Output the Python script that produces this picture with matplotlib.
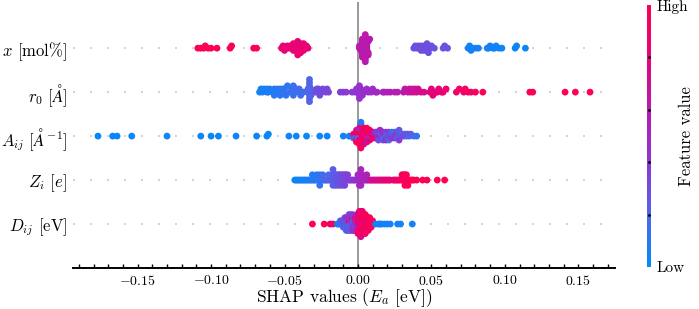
import numpy as np
import matplotlib
matplotlib.use('Agg')
import matplotlib.pyplot as plt
from matplotlib.colors import LinearSegmentedColormap, Normalize
from matplotlib.cm import ScalarMappable
from matplotlib.ticker import MultipleLocator

plt.rcParams['font.family'] = 'serif'
plt.rcParams['font.serif'] = ['cmr10']
plt.rcParams['mathtext.fontset'] = 'cm'
plt.rcParams['axes.formatter.use_mathtext'] = True

# feature labels, top to bottom
labels = [r'$x$ [mol%]', r'$r_0$ [$\AA$]', r'$A_{ij}$ [$\AA^{-1}$]',
          r'$Z_i$ [$e$]', r'$D_{ij}$ [eV]']

# SHAP values and (normalised) feature values
x_shap = [
    -0.109, -0.107, -0.105, -0.104, -0.102, -0.100, -0.096, -0.087, -0.086, -0.071,
    -0.069, -0.052, -0.051, -0.050, -0.049, -0.048, -0.047, -0.046, -0.045, -0.045,
    -0.044, -0.044, -0.043, -0.043, -0.042, -0.042, -0.041, -0.041, -0.041, -0.040,
    -0.040, -0.040, -0.039, -0.039, -0.038, -0.038, -0.037, -0.037, -0.036, -0.035,
    -0.034, 0.001, 0.001, 0.002, 0.002, 0.002, 0.003, 0.003, 0.003, 0.003,
    0.003, 0.003, 0.004, 0.004, 0.004, 0.004, 0.004, 0.004, 0.004, 0.005,
    0.005, 0.005, 0.005, 0.005, 0.005, 0.006, 0.006, 0.006, 0.006, 0.007,
    0.007, 0.007, 0.008, 0.038, 0.039, 0.040, 0.041, 0.042, 0.043, 0.043,
    0.044, 0.045, 0.045, 0.046, 0.046, 0.047, 0.047, 0.048, 0.049, 0.050,
    0.052, 0.058, 0.059, 0.061, 0.075, 0.076, 0.077, 0.078, 0.080, 0.082,
    0.088, 0.089, 0.090, 0.092, 0.093, 0.094, 0.096, 0.098, 0.107, 0.108,
    0.114,
]
x_fval = [
    1.00, 0.98, 1.00, 0.97, 1.00, 0.99, 0.98, 1.00, 0.97, 0.99,
    1.00, 0.84, 0.82, 0.83, 0.82, 0.84, 0.83, 0.82, 0.84, 0.83,
    0.82, 0.84, 0.83, 0.82, 0.84, 0.83, 0.82, 0.84, 0.83, 0.82,
    0.84, 0.83, 0.82, 0.84, 0.83, 0.82, 0.84, 0.83, 0.82, 0.84,
    0.83, 0.60, 0.62, 0.61, 0.59, 0.60, 0.62, 0.61, 0.59, 0.60,
    0.62, 0.61, 0.59, 0.60, 0.62, 0.61, 0.59, 0.60, 0.62, 0.61,
    0.59, 0.60, 0.62, 0.61, 0.59, 0.60, 0.62, 0.61, 0.59, 0.60,
    0.62, 0.61, 0.59, 0.30, 0.29, 0.31, 0.30, 0.28, 0.30, 0.31,
    0.29, 0.30, 0.28, 0.31, 0.30, 0.29, 0.30, 0.28, 0.31, 0.30,
    0.29, 0.27, 0.28, 0.27, 0.05, 0.04, 0.06, 0.05, 0.04, 0.06,
    0.05, 0.04, 0.06, 0.05, 0.03, 0.04, 0.05, 0.03, 0.02, 0.03,
    0.02,
]

r0_shap = [
    -0.067, -0.066, -0.065, -0.064, -0.062, -0.062, -0.061, -0.060, -0.058, -0.057,
    -0.057, -0.056, -0.055, -0.054, -0.053, -0.053, -0.052, -0.051, -0.050, -0.050,
    -0.049, -0.048, -0.046, -0.045, -0.045, -0.044, -0.044, -0.043, -0.042, -0.040,
    -0.040, -0.039, -0.037, -0.034, -0.034, -0.033, -0.033, -0.033, -0.033, -0.033,
    -0.033, -0.032, -0.032, -0.032, -0.029, -0.028, -0.027, -0.027, -0.026, -0.025,
    -0.024, -0.022, -0.021, -0.020, -0.012, -0.010, -0.008, -0.004, -0.002, -0.001,
    0.000, 0.000, 0.001, 0.001, 0.001, 0.002, 0.002, 0.003, 0.004, 0.006,
    0.007, 0.009, 0.010, 0.012, 0.013, 0.017, 0.018, 0.020, 0.022, 0.025,
    0.027, 0.031, 0.032, 0.034, 0.035, 0.036, 0.037, 0.038, 0.039, 0.040,
    0.041, 0.043, 0.045, 0.049, 0.050, 0.051, 0.053, 0.054, 0.055, 0.057,
    0.058, 0.060, 0.067, 0.069, 0.072, 0.073, 0.075, 0.077, 0.080, 0.085,
    0.117, 0.119, 0.141, 0.148, 0.158,
]
r0_fval = [
    0.04, 0.05, 0.06, 0.05, 0.07, 0.06, 0.08, 0.07, 0.09, 0.08,
    0.10, 0.09, 0.11, 0.10, 0.09, 0.12, 0.11, 0.10, 0.12, 0.11,
    0.13, 0.12, 0.14, 0.13, 0.15, 0.14, 0.13, 0.15, 0.16, 0.15,
    0.16, 0.17, 0.16, 0.20, 0.21, 0.19, 0.20, 0.22, 0.21, 0.20,
    0.19, 0.21, 0.20, 0.22, 0.28, 0.29, 0.30, 0.31, 0.30, 0.32,
    0.31, 0.33, 0.32, 0.34, 0.36, 0.37, 0.38, 0.40, 0.41, 0.40,
    0.42, 0.41, 0.43, 0.42, 0.44, 0.43, 0.45, 0.44, 0.46, 0.45,
    0.47, 0.46, 0.48, 0.47, 0.49, 0.52, 0.53, 0.55, 0.56, 0.57,
    0.58, 0.62, 0.63, 0.64, 0.65, 0.66, 0.67, 0.68, 0.69, 0.70,
    0.71, 0.72, 0.74, 0.78, 0.79, 0.80, 0.81, 0.82, 0.83, 0.84,
    0.84, 0.85, 0.88, 0.89, 0.90, 0.91, 0.92, 0.93, 0.94, 0.96,
    1.00, 0.99, 1.00, 1.00, 1.00,
]

a_shap = [
    -0.177, -0.167, -0.164, -0.154, -0.130, -0.107, -0.100, -0.095, -0.083, -0.069,
    -0.062, -0.061, -0.047, -0.042, -0.035, -0.026, -0.021, -0.010, -0.006, -0.004,
    -0.003, -0.003, -0.002, -0.002, -0.002, -0.001, -0.001, -0.001, -0.001, 0.000,
    0.000, 0.000, 0.000, 0.001, 0.001, 0.001, 0.001, 0.001, 0.002, 0.002,
    0.002, 0.002, 0.002, 0.003, 0.003, 0.003, 0.003, 0.004, 0.004, 0.004,
    0.004, 0.004, 0.005, 0.005, 0.005, 0.005, 0.006, 0.006, 0.006, 0.006,
    0.007, 0.007, 0.007, 0.008, 0.008, 0.008, 0.009, 0.009, 0.010, 0.010,
    0.011, 0.011, 0.012, 0.013, 0.014, 0.015, 0.016, 0.018, 0.020, 0.012,
    0.013, 0.014, 0.015, 0.016, 0.016, 0.017, 0.017, 0.018, 0.018, 0.019,
    0.019, 0.020, 0.020, 0.021, 0.021, 0.022, 0.022, 0.023, 0.023, 0.024,
    0.024, 0.025, 0.025, 0.026, 0.026, 0.027, 0.027, 0.028, 0.028, 0.029,
    0.030, 0.031, 0.032, 0.033, 0.034, 0.035, 0.036, 0.038, 0.040,
]
a_fval = [
    0.03, 0.02, 0.03, 0.02, 0.04, 0.03, 0.02, 0.03, 0.04, 0.03,
    0.02, 0.03, 0.04, 0.03, 0.02, 0.04, 0.03, 0.05, 0.08, 0.10,
    0.95, 0.25, 1.00, 0.85, 0.15, 0.90, 1.00, 0.70, 0.95, 0.88,
    1.00, 0.20, 0.92, 0.80, 1.00, 0.90, 0.45, 0.98, 0.85, 1.00,
    0.75, 0.95, 0.10, 0.90, 1.00, 0.82, 0.97, 0.88, 0.60, 1.00,
    0.92, 0.78, 0.95, 0.35, 1.00, 0.86, 0.90, 1.00, 0.70, 0.94,
    0.85, 1.00, 0.55, 0.92, 0.80, 0.98, 0.40, 0.88, 1.00, 0.75,
    0.90, 0.65, 0.82, 0.50, 0.78, 0.60, 0.85, 0.70, 0.55, 0.40,
    0.35, 0.30, 0.45, 0.20, 0.38, 0.50, 0.25, 0.42, 0.15, 0.36,
    0.48, 0.22, 0.33, 0.40, 0.18, 0.44, 0.30, 0.37, 0.12, 0.35,
    0.28, 0.40, 0.20, 0.33, 0.45, 0.15, 0.30, 0.38, 0.25, 0.32,
    0.18, 0.35, 0.28, 0.22, 0.30, 0.15, 0.25, 0.20, 0.12,
]

z_shap = [
    -0.043, -0.042, -0.041, -0.040, -0.039, -0.038, -0.037, -0.036, -0.035, -0.034,
    -0.033, -0.032, -0.031, -0.031, -0.030, -0.029, -0.028, -0.028, -0.027, -0.026,
    -0.026, -0.026, -0.025, -0.024, -0.024, -0.023, -0.022, -0.021, -0.020, -0.020,
    -0.019, -0.018, -0.017, -0.017, -0.017, -0.016, -0.016, -0.015, -0.015, -0.015,
    -0.014, -0.014, -0.013, -0.013, -0.013, -0.012, -0.012, -0.011, -0.011, -0.011,
    -0.010, -0.010, -0.009, -0.009, -0.009, -0.008, -0.008, -0.007, -0.007, -0.006,
    -0.005, -0.004, -0.003, -0.002, -0.001, 0.000, 0.000, 0.001, 0.001, 0.001,
    0.002, 0.002, 0.002, 0.002, 0.003, 0.003, 0.004, 0.005, 0.006, 0.006,
    0.007, 0.008, 0.009, 0.010, 0.011, 0.012, 0.013, 0.014, 0.015, 0.016,
    0.017, 0.018, 0.019, 0.020, 0.021, 0.022, 0.024, 0.025, 0.026, 0.027,
    0.028, 0.029, 0.030, 0.030, 0.031, 0.031, 0.032, 0.032, 0.032, 0.033,
    0.033, 0.034, 0.035, 0.036, 0.037, 0.038, 0.040, 0.044, 0.047, 0.054,
    0.059,
]
z_fval = [
    0.02, 0.03, 0.04, 0.03, 0.05, 0.04, 0.06, 0.05, 0.07, 0.06,
    0.08, 0.07, 0.09, 0.08, 0.10, 0.09, 0.11, 0.10, 0.12, 0.11,
    0.13, 0.12, 0.14, 0.13, 0.15, 0.18, 0.20, 0.19, 0.21, 0.20,
    0.22, 0.21, 0.23, 0.22, 0.24, 0.23, 0.25, 0.24, 0.26, 0.25,
    0.27, 0.26, 0.28, 0.27, 0.29, 0.28, 0.30, 0.29, 0.31, 0.30,
    0.32, 0.31, 0.33, 0.32, 0.34, 0.33, 0.35, 0.34, 0.36, 0.37,
    0.38, 0.39, 0.40, 0.41, 0.45, 0.46, 0.47, 0.48, 0.49, 0.50,
    0.49, 0.51, 0.50, 0.52, 0.51, 0.53, 0.52, 0.54, 0.53, 0.55,
    0.54, 0.56, 0.70, 0.71, 0.72, 0.73, 0.74, 0.75, 0.76, 0.77,
    0.78, 0.79, 0.80, 0.81, 0.82, 0.83, 0.84, 0.85, 0.86, 0.87,
    0.88, 0.90, 0.91, 0.92, 0.93, 0.94, 0.95, 0.96, 0.97, 0.98,
    0.99, 1.00, 0.99, 1.00, 0.98, 1.00, 1.00, 1.00, 1.00, 1.00,
    1.00,
]

d_shap = [
    -0.031, -0.023, -0.019, -0.017, -0.014, -0.013, -0.012, -0.012, -0.011, -0.011,
    -0.010, -0.010, -0.010, -0.009, -0.009, -0.009, -0.009, -0.008, -0.008, -0.008,
    -0.008, -0.008, -0.007, -0.007, -0.007, -0.007, -0.007, -0.006, -0.006, -0.006,
    -0.006, -0.006, -0.006, -0.005, -0.005, -0.005, -0.005, -0.005, -0.004, -0.004,
    -0.004, -0.004, -0.004, -0.004, -0.003, -0.003, -0.003, -0.003, -0.003, -0.002,
    -0.002, -0.002, -0.002, -0.002, -0.001, -0.001, -0.001, -0.001, -0.001, -0.001,
    0.000, 0.000, 0.000, 0.000, 0.000, 0.000, 0.000, 0.001, 0.001, 0.001,
    0.001, 0.001, 0.001, 0.001, 0.001, 0.002, 0.002, 0.002, 0.002, 0.002,
    0.002, 0.002, 0.002, 0.002, 0.003, 0.003, 0.003, 0.003, 0.003, 0.003,
    0.003, 0.003, 0.004, 0.004, 0.004, 0.004, 0.004, 0.004, 0.004, 0.005,
    0.005, 0.005, 0.005, 0.005, 0.005, 0.005, 0.006, 0.006, 0.006, 0.006,
    0.006, 0.007, 0.007, 0.007, 0.007, 0.007, 0.008, 0.008, 0.008, 0.008,
    0.009, 0.009, 0.009, 0.010, 0.010, 0.012, 0.014, 0.015, 0.016, 0.018,
    0.020, 0.022, 0.027, 0.029, 0.037,
]
d_fval = [
    1.00, 1.00, 0.85, 0.95, 0.05, 0.06, 0.08, 0.10, 0.15, 0.30,
    0.10, 0.35, 0.20, 0.40, 0.12, 0.30, 0.25, 0.08, 0.38, 0.22,
    0.45, 0.15, 0.33, 0.28, 0.10, 0.42, 0.36, 0.20, 0.85, 0.30,
    0.40, 0.18, 0.35, 0.25, 0.44, 0.12, 0.38, 0.30, 0.22, 0.46,
    0.32, 0.95, 0.28, 0.40, 0.36, 0.20, 0.45, 0.30, 0.42, 0.38,
    0.50, 0.34, 0.90, 0.44, 0.40, 0.48, 0.36, 0.55, 0.42, 0.46,
    0.80, 0.95, 0.55, 1.00, 0.88, 0.70, 0.92, 0.98, 0.85, 0.60,
    1.00, 0.90, 0.75, 0.95, 0.82, 1.00, 0.65, 0.88, 0.97, 0.78,
    0.92, 1.00, 0.85, 0.70, 0.95, 0.88, 1.00, 0.80, 0.93, 0.75,
    0.98, 0.86, 1.00, 0.90, 0.72, 0.95, 0.83, 1.00, 0.88, 0.96,
    0.80, 0.92, 1.00, 0.85, 0.97, 0.90, 1.00, 0.78, 0.94, 0.88,
    1.00, 0.92, 0.85, 0.98, 1.00, 0.90, 0.95, 1.00, 0.87, 0.93,
    1.00, 0.90, 0.96, 0.98, 1.00, 0.05, 0.04, 0.06, 0.05, 0.04,
    0.06, 0.05, 0.04, 0.05, 0.06,
]

rows = [(x_shap, x_fval), (r0_shap, r0_fval), (a_shap, a_fval),
        (z_shap, z_fval), (d_shap, d_fval)]

# shap-like blue -> purple -> red colormap
red_blue = LinearSegmentedColormap.from_list('red_blue', [
    (0.0, '#008bfb'), (0.2, '#5065ea'), (0.4, '#8e36d4'),
    (0.6, '#b81aae'), (0.8, '#e5037a'), (1.0, '#ff0052')])


def swarm_offsets(shaps, row_height=0.4, nbins=100):
    # same binning/stacking as shap's beeswarm
    shaps = np.asarray(shaps)
    quant = np.round(nbins * (shaps - shaps.min()) / (shaps.max() - shaps.min() + 1e-8))
    inds = np.argsort(quant, kind='stable')
    ys = np.zeros(len(shaps))
    layer, last_bin = 0, -1
    for ind in inds:
        if quant[ind] != last_bin:
            layer = 0
        ys[ind] = np.ceil(layer / 2) * ((layer % 2) * 2 - 1)
        layer += 1
        last_bin = quant[ind]
    ys *= 0.9 * (row_height / np.max(ys + 1))
    return ys


fig = plt.figure(figsize=(6.99, 3.09), dpi=100)
ax = fig.add_axes([73 / 699, 41 / 309, 542 / 699, 266 / 309])

n = len(rows)
ax.axvline(0, color='#999999', lw=1.4, zorder=-1)
for i, (sv, fv) in enumerate(rows):
    pos = n - 1 - i
    ax.axhline(pos, color='#cccccc', lw=1.2, dashes=(1.2, 9), zorder=-1)
    ys = swarm_offsets(sv)
    ax.scatter(sv, pos + ys, c=fv, cmap=red_blue, vmin=0, vmax=1,
               s=24, linewidth=0, zorder=3)

ax.set_ylim(-1, n + 0.05)
ax.set_xlim(-0.194, 0.175)
ax.set_yticks(range(n))
ax.set_yticklabels(labels[::-1], fontsize=12)
ax.tick_params(axis='y', length=0, pad=4)
ax.xaxis.set_major_locator(MultipleLocator(0.05))
ax.xaxis.set_minor_locator(MultipleLocator(0.01))
ax.tick_params(axis='x', which='both', direction='in', length=3, width=1,
               labelsize=10, pad=4)
for s in ['left', 'right', 'top']:
    ax.spines[s].set_visible(False)
ax.spines['bottom'].set_linewidth(1.4)
ax.set_xlabel(r'SHAP values ($E_a$ [eV])', fontsize=12.5, labelpad=-1)

# colour bar
cax = fig.add_axes([647 / 699, 42 / 309, 4 / 699, 262 / 309])
cb = fig.colorbar(ScalarMappable(norm=Normalize(0, 1), cmap=red_blue), cax=cax,
                  ticks=[0, 1])
cb.set_ticklabels(['Low', 'High'])
cb.ax.tick_params(labelsize=11, length=0, pad=4)
cb.outline.set_visible(False)
cax.plot([0.5] * 4, [0.2, 0.4, 0.6, 0.8], 'k.', ms=2)
cax.set_xlim(0, 1)
fig.text(686 / 699, 1 - 136 / 309, 'Feature value', rotation=90,
         ha='center', va='center', fontsize=12)

fig.savefig('out.png', dpi=100)
